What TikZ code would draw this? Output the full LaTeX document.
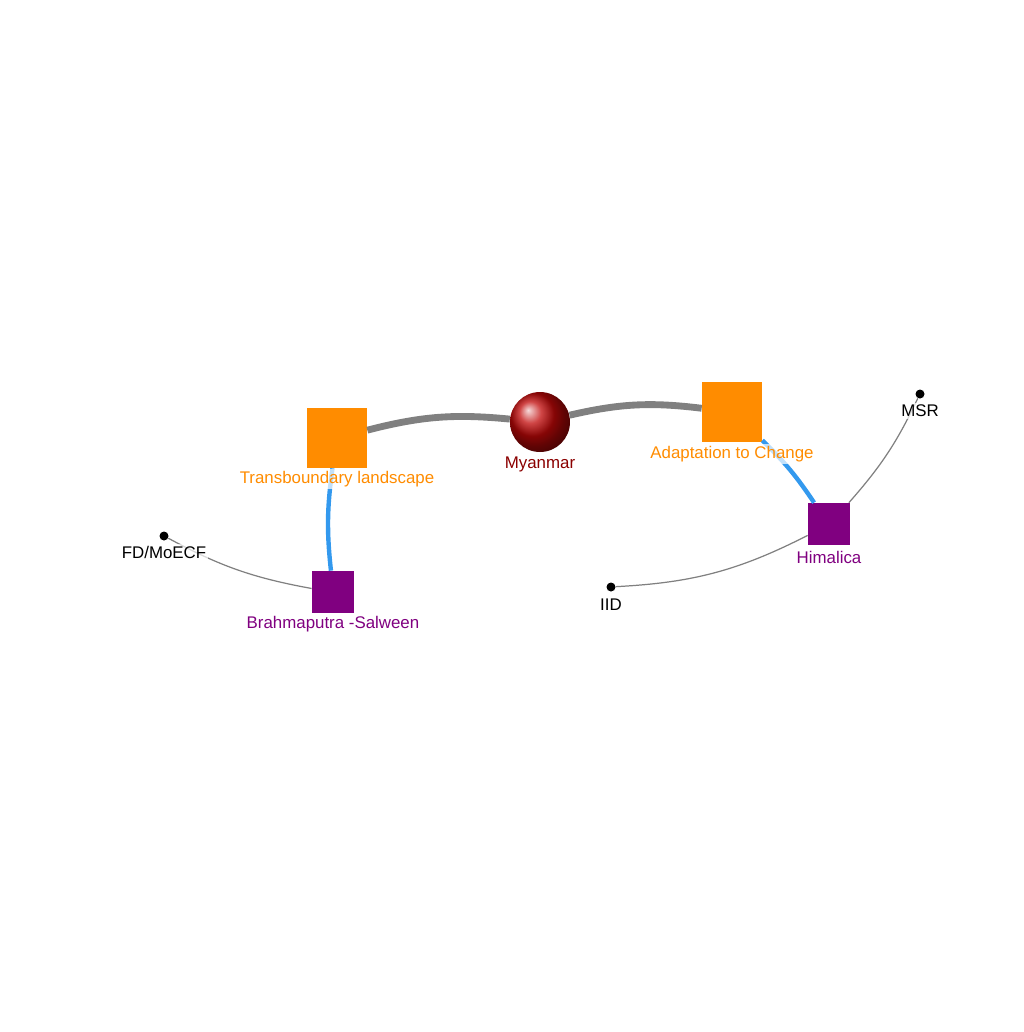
\documentclass[tikz,border=0pt]{standalone}
\usepackage{fontspec}
\setmainfont{Liberation Sans}
\definecolor{myorange}{HTML}{FF8C00}
\definecolor{mypurple}{HTML}{800080}
\definecolor{mydarkred}{HTML}{8B0000}
\definecolor{mysphere}{HTML}{C00808}
\definecolor{myblue}{HTML}{3399EE}
\definecolor{mygray}{HTML}{808080}

\begin{document}
\begin{tikzpicture}[x = 0.02cm, y = -0.02cm,
        mtopic/.style = {fill = myorange, minimum size = 1.2cm, inner sep = 0pt},
        mproject/.style = {fill = mypurple, minimum size = 0.84cm, inner sep = 0pt},
        mpartner/.style = {circle, fill = black, minimum size = 0.18cm, inner sep = 0pt},
        mlabel/.style = {font = \fontsize{9.6}{11}\selectfont, fill = white, fill opacity = 0.7, text opacity = 1, inner sep = 1pt},
        mstrong/.style = {mygray, line width = 3.9pt},
        mlink/.style = {myblue, line width = 2.5pt},
        mweak/.style = {mygray, line width = 0.7pt}
    ]
        \useasboundingbox (0,0) rectangle (1024,1032);

        \node[mtopic] (T) at (337,438) {};
        \node[mtopic] (A) at (732,412) {};
        \node[circle, ball color = mysphere, minimum size = 1.2cm, inner sep = 0pt] (M) at (540,422) {};
        \node[mproject] (B) at (333,592) {};
        \node[mproject] (H) at (829,524) {};
        \node[mpartner] (F) at (164,536) {};
        \node[mpartner] (I) at (611,587) {};
        \node[mpartner] (S) at (920,394) {};

        \draw[mstrong] (T) to[bend left = 10] (M);
        \draw[mstrong] (M) to[bend left = 10] (A);
        \draw[mlink] (T) to[bend right = 7] (B);
        \draw[mlink] (A) to[bend left = 6] (H);
        \draw[mweak] (H) to[bend right = 8] (S);
        \draw[mweak] (H) to[bend left = 12] (I);
        \draw[mweak] (B) to[bend left = 9] (F);

        \node[mlabel, text = myorange] (Tl) at (337,479) {Transboundary landscape};
        \node[mlabel, text = mydarkred] (Ml) at (540,464) {Myanmar};
        \node[mlabel, text = myorange] (Al) at (732,454) {Adaptation to Change};
        \node[mlabel, text = mypurple] (Bl) at (333,624) {Brahmaputra -Salween};
        \node[mlabel, text = mypurple] (Hl) at (829,557) {Himalica};
        \node[mlabel] (Fl) at (164,552) {FD/MoECF};
        \node[mlabel] (Il) at (611,605) {IID};
        \node[mlabel] (Sl) at (920,411) {MSR};
    \end{tikzpicture}
\end{document}
